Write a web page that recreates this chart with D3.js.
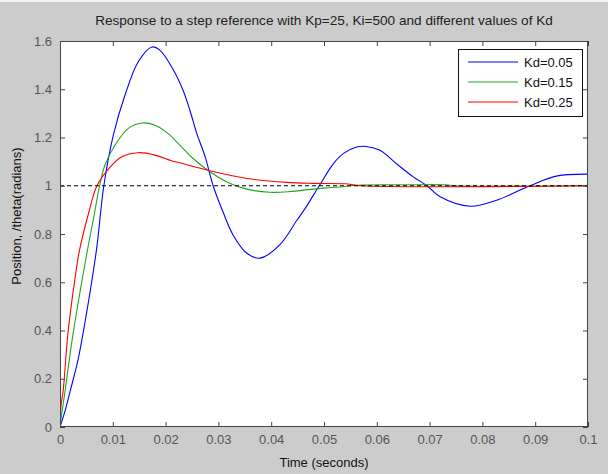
<!DOCTYPE html>
<html>
<head>
<meta charset="utf-8">
<script src="https://cdn.jsdelivr.net/npm/d3@7"></script>
<style>
  html, body { margin: 0; padding: 0; background: #cccccc; }
  svg { display: block; }
  text { font-family: "Liberation Sans", Arial, sans-serif; }
</style>
</head>
<body>
<div class="chart"></div>
<script>
// ** data */
const tBlue = [0, 0.001, 0.002, 0.0034, 0.0047, 0.0069, 0.0083, 0.0101, 0.0123, 0.0148, 0.0174, 0.0189, 0.0215, 0.0233, 0.0246, 0.0259, 0.0275, 0.029, 0.0309, 0.0328, 0.0354, 0.0379, 0.0417, 0.0448, 0.0464, 0.0491, 0.0518, 0.0537, 0.0562, 0.058, 0.0606, 0.0638, 0.0669, 0.0695, 0.072, 0.0777, 0.0827, 0.089, 0.094, 0.1];
const vBlue = [0, 0.07, 0.155, 0.277, 0.43, 0.733, 1.0, 1.21, 1.375, 1.513, 1.575, 1.562, 1.479, 1.396, 1.313, 1.217, 1.12, 1.0, 0.89, 0.795, 0.72, 0.70, 0.757, 0.855, 0.905, 1.0, 1.092, 1.134, 1.161, 1.163, 1.147, 1.09, 1.037, 1.0, 0.954, 0.915, 0.94, 1.0, 1.04, 1.048];

const tGreen = [0, 0.0003, 0.0009, 0.0025, 0.0052, 0.0064, 0.0075, 0.0085, 0.0104, 0.0129, 0.0155, 0.018, 0.0205, 0.0224, 0.0252, 0.0284, 0.0316, 0.0354, 0.0398, 0.0436, 0.047, 0.05, 0.053, 0.057, 0.065, 0.073, 0.075, 0.1];
const vGreen = [0, 0.05, 0.14, 0.39, 0.733, 0.87, 1.0, 1.085, 1.168, 1.237, 1.26, 1.251, 1.216, 1.175, 1.113, 1.058, 1.016, 0.986, 0.973, 0.976, 0.984, 0.99, 0.995, 1.003, 1.004, 1.004, 1.0, 1.0];

const tRed = [0, 0.0002, 0.0006, 0.0015, 0.0028, 0.0037, 0.0054, 0.007, 0.0092, 0.0117, 0.0148, 0.018, 0.0211, 0.0227, 0.0256, 0.0284, 0.0354, 0.043, 0.048, 0.054, 0.057, 0.1];
const vRed = [0, 0.09, 0.15, 0.388, 0.61, 0.733, 0.885, 1.0, 1.07, 1.12, 1.137, 1.127, 1.104, 1.095, 1.078, 1.062, 1.03, 1.014, 1.01, 1.008, 1.0, 1.0];

const seriesNames = ["Kd=0.05", "Kd=0.15", "Kd=0.25"];
const seriesColors = ["#0000ff", "#1fa81f", "#ff0000"];
const refT = [0, 0.1];
const refV = [1, 1];

const xTicks = [0, 0.01, 0.02, 0.03, 0.04, 0.05, 0.06, 0.07, 0.08, 0.09, 0.1];
const xTickLabels = ["0", "0.01", "0.02", "0.03", "0.04", "0.05", "0.06", "0.07", "0.08", "0.09", "0.1"];
const yTicks = [0, 0.2, 0.4, 0.6, 0.8, 1, 1.2, 1.4, 1.6];
const yTickLabels = ["0", "0.2", "0.4", "0.6", "0.8", "1", "1.2", "1.4", "1.6"];

const title = "Response to a step reference with Kp=25, Ki=500 and different values of Kd";
const xLabel = "Time (seconds)";
const yLabel = "Position, /theta(radians)";

//** svg */
const W = 608, H = 474;
const pLeft = 60, pRight = 588, pTop = 41, pBottom = 427;

var svg = d3.select(".chart")
            .append("svg")
            .attr("width", W)
            .attr("height", H);

svg.append("rect").attr("width", W).attr("height", H).attr("fill", "#cccccc");
svg.append("rect").attr("width", W).attr("height", 2).attr("fill", "#f2f2f2");

var x = d3.scaleLinear().domain([0, 0.1]).range([pLeft, pRight]);
var y = d3.scaleLinear().domain([0, 1.6]).range([pBottom, pTop]);

// plot area
svg.append("rect")
  .attr("x", pLeft).attr("y", pTop)
  .attr("width", pRight - pLeft).attr("height", pBottom - pTop)
  .attr("fill", "white");

svg.append("clipPath").attr("id", "clip")
  .append("rect").attr("x", pLeft).attr("y", pTop)
  .attr("width", pRight - pLeft).attr("height", pBottom - pTop);

//** lines */
const line = d3.line()
  .x(d => x(d[0]))
  .y(d => y(d[1]))
  .curve(d3.curveCatmullRom.alpha(0.5));

const series = [
  d3.zip(tBlue, vBlue),
  d3.zip(tGreen, vGreen),
  d3.zip(tRed, vRed)
];

const plot = svg.append("g").attr("clip-path", "url(#clip)");
series.forEach((s, i) => {
  plot.append("path")
    .datum(s)
    .attr("d", line)
    .attr("fill", "none")
    .attr("stroke", seriesColors[i])
    .attr("stroke-width", 1.1);
});

plot.append("path")
  .datum(d3.zip(refT, refV))
  .attr("d", d3.line().x(d => x(d[0])).y(d => y(d[1])))
  .attr("fill", "none")
  .attr("stroke", "black")
  .attr("stroke-width", 1)
  .attr("stroke-dasharray", "4,3");

//** axes */
const fmtX = (d, i) => xTickLabels[i];
const fmtY = (d, i) => yTickLabels[i];

function styleAxis(g) {
  g.select(".domain").remove();
  g.selectAll(".tick line").attr("stroke", "#444");
  g.selectAll(".tick text")
    .attr("fill", "#555")
    .style("font-size", "13px")
    .style("font-family", "'Liberation Sans', Arial, sans-serif");
}

svg.append("g")
  .attr("transform", `translate(0,${pBottom})`)
  .call(d3.axisBottom(x).tickValues(xTicks).tickFormat(fmtX).tickSizeInner(-5).tickSizeOuter(0).tickPadding(8))
  .call(styleAxis);

svg.append("g")
  .attr("transform", `translate(0,${pTop})`)
  .call(d3.axisTop(x).tickValues(xTicks).tickFormat("").tickSizeInner(-5).tickSizeOuter(0))
  .call(styleAxis);

svg.append("g")
  .attr("transform", `translate(${pLeft},0)`)
  .call(d3.axisLeft(y).tickValues(yTicks).tickFormat(fmtY).tickSizeInner(-5).tickSizeOuter(0).tickPadding(8))
  .call(styleAxis);

svg.append("g")
  .attr("transform", `translate(${pRight},0)`)
  .call(d3.axisRight(y).tickValues(yTicks).tickFormat("").tickSizeInner(-5).tickSizeOuter(0))
  .call(styleAxis);

// box
svg.append("rect")
  .attr("x", pLeft + 0.5).attr("y", pTop + 0.5)
  .attr("width", pRight - pLeft - 1).attr("height", pBottom - pTop - 1)
  .attr("fill", "none")
  .attr("stroke", "#444")
  .attr("stroke-width", 1);

//** texts */
svg.append("text")
  .attr("x", (pLeft + pRight) / 2).attr("y", 25)
  .attr("text-anchor", "middle")
  .attr("fill", "#222")
  .style("font-size", "13.6px")
  .text(title);

svg.append("text")
  .attr("x", (pLeft + pRight) / 2).attr("y", 467)
  .attr("text-anchor", "middle")
  .attr("fill", "#111")
  .style("font-size", "13px")
  .text(xLabel);

svg.append("text")
  .attr("transform", `translate(21,216) rotate(-90)`)
  .attr("text-anchor", "middle")
  .attr("fill", "#111")
  .style("font-size", "13px")
  .text(yLabel);

//** legend */
const lg = svg.append("g");
lg.append("rect")
  .attr("x", 458.5).attr("y", 49.5)
  .attr("width", 124).attr("height", 67)
  .attr("fill", "white")
  .attr("stroke", "#111");

seriesNames.forEach((name, i) => {
  const ly = 62 + i * 20;
  lg.append("line")
    .attr("x1", 468).attr("x2", 518)
    .attr("y1", ly).attr("y2", ly)
    .attr("stroke", seriesColors[i])
    .attr("stroke-width", 1.1);
  lg.append("text")
    .attr("x", 524).attr("y", ly + 4.5)
    .attr("fill", "#111")
    .style("font-size", "13px")
    .text(name);
});
</script>
</body>
</html>
